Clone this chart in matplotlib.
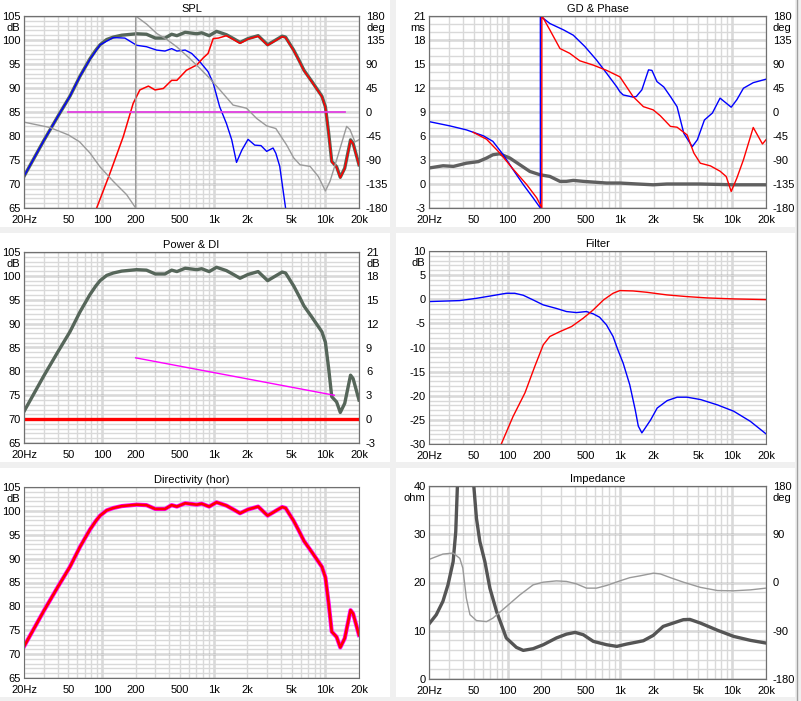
import numpy as np
import matplotlib
matplotlib.use('Agg')
import matplotlib.pyplot as plt
from matplotlib.patches import Rectangle
from matplotlib.lines import Line2D
from matplotlib.ticker import FixedLocator, NullFormatter

plt.rcParams['font.family'] = ['Liberation Sans', 'DejaVu Sans']
plt.rcParams['font.size'] = 8

# ---- data ----
# total response (SPL, power and directivity panels share it)
freq_total = [20, 30, 40, 51.6, 63.6, 78, 88, 96, 110, 126, 150, 204, 250, 300, 366,
              420, 468, 555, 705, 780, 910, 1060, 1300, 1500, 1720, 2030, 2500, 3040,
              4100, 4400, 5200, 5800, 6430, 7600, 9300, 10000, 10700, 11400, 12600,
              13600, 14900, 16800, 17700, 20000]
spl_total = [71.6, 79.0, 84.0, 88.3, 92.5, 96.1, 97.9, 99.0, 100.1, 100.6, 101.0, 101.3,
             101.2, 100.4, 100.4, 101.2, 100.9, 101.6, 101.3, 101.5, 100.9, 101.8, 101.1,
             100.3, 99.5, 100.3, 100.9, 99.0, 100.8, 100.6, 97.9, 95.8, 93.7, 91.3, 88.3,
             86.1, 80.6, 74.7, 73.6, 71.4, 73.3, 79.2, 78.5, 74.0]

# woofer SPL (blue)
freq_woof = [20, 30, 40, 51.6, 63.6, 78, 96, 126, 160, 204, 250, 308, 366, 420, 468, 555,
             635, 750, 890, 990, 1130, 1300, 1450, 1600, 1790, 2030, 2330, 2650, 2980,
             3400, 3600, 3900, 4400, 4700]
spl_woof = [71.6, 79.0, 84.0, 88.3, 92.5, 96.0, 99.0, 100.5, 100.4, 98.9, 98.6, 97.9, 97.7,
            98.2, 97.7, 97.9, 97.2, 95.5, 93.4, 91.0, 86.1, 82.6, 79.2, 74.5, 77.1, 79.3,
            78.1, 78.0, 76.8, 77.5, 76.4, 73.7, 65.0, 60.0]

# tweeter SPL (red)
freq_tw = [89.5, 118, 155, 190, 218, 260, 298, 354, 420, 468, 570, 705, 808, 890, 990,
           1100, 1300, 1500, 1720, 2030, 2500, 3040, 4100, 4400, 5200, 5800, 6430, 7600,
           9300, 10000, 10700, 11400, 12600, 13600, 14900, 16800, 17700, 20000]
spl_tw = [65, 72.3, 79.9, 86.8, 89.6, 90.4, 89.6, 89.9, 91.6, 91.6, 93.7, 94.8, 96.3, 97.2,
          100.3, 100.4, 100.9, 100.1, 99.3, 100.2, 100.8, 98.9, 100.7, 100.5, 97.8, 95.7,
          93.6, 91.2, 88.2, 86.0, 80.5, 74.6, 73.5, 71.3, 73.2, 79.1, 78.4, 73.9]

# total phase (gray, right axis, deg)
freq_ph_total = [20, 34, 50, 63, 78, 96, 126, 166, 200, 200, 250, 310, 380, 468, 570, 750,
                 920, 1130, 1490, 1720, 1970, 2420, 2980, 3600, 4500, 5200, 5930, 7300,
                 8650, 10000, 11000, 12600, 15500, 16600, 18400, 20000]
ph_total = [-19, -29, -43, -56, -77, -103, -130, -155, -180, 180, 165, 147, 136, 122, 106,
            82, 63, 42, 13, 10, 7, -12, -26, -31, -62, -86, -99, -102, -121, -148, -130,
            -90, -27, -33, -56, -52]

# target line (magenta)
freq_target = [50, 15100]
spl_target = [85, 85]

# group delay (ms)
freq_gd = [20, 26.7, 33, 43, 55, 65, 74, 85, 105, 129, 158, 194, 238, 293, 334, 385, 473,
           579, 763, 1000, 1310, 1980, 2620, 5200, 10300, 20000]
gd_ms = [2.0, 2.28, 2.2, 2.6, 2.8, 3.24, 3.65, 3.78, 3.24, 2.4, 1.57, 1.16, 0.95, 0.33,
         0.33, 0.45, 0.33, 0.24, 0.12, 0.12, 0.03, -0.1, 0.0, 0.0, -0.1, -0.1]

# woofer phase (blue, deg)
freq_ph_woof = [20, 30.6, 43, 61, 74, 91.5, 112, 138, 169, 196, 196, 238, 315, 385, 487,
                617, 760, 940, 1000, 1070, 1310, 1400, 1570, 1800, 1930, 2140, 2460, 2820,
                3230, 3710, 4410, 4900, 5660, 6660, 7800, 8850, 9800, 11000, 12600, 15400,
                20000]
ph_woof = [-18, -26, -33.5, -44.7, -55, -80, -108, -136, -161, -180, 180, 166, 154, 144,
           123, 98, 73, 47, 38, 32, 28, 29, 41.5, 79, 78, 57, 47, 29, 10, -40, -65, -52,
           -15, -2, 26, 16.6, 9, 23, 44.6, 55, 61.5]

# tweeter phase (red, deg)
freq_ph_tw = [49.4, 65, 85.5, 112, 148, 182, 202, 202, 208, 238, 293, 358, 440, 579, 763,
              1000, 1150, 1310, 1620, 1980, 2290, 2820, 3230, 3970, 4560, 5200, 6400, 7800,
              8850, 9800, 11000, 12600, 15400, 17400, 18600, 20000]
ph_tw = [-38, -51, -77, -107, -136, -161, -180, 180, 176, 154, 119, 110, 96, 88, 78, 66, 47,
         29, 10, 4, -7, -27, -28.5, -43, -77, -96, -101, -111, -121, -149, -124, -89.5, -29,
         -49, -60, -52]

# power & DI
freq_di_target = [200, 12000]
di_target = [7.7, 3.0]
freq_di = [20, 20000]
di_values = [0, 0]

# filters
freq_flt_woof = [20, 37.5, 53, 74, 97.5, 116, 138, 169, 208, 272, 335, 410, 505, 580, 660,
                 760, 870, 960, 1070, 1225, 1370, 1460, 1570, 1680, 1880, 2150, 2640, 3240,
                 3980, 5250, 7400, 10300, 14500, 20000]
flt_woof = [-0.48, -0.28, 0.2, 0.76, 1.24, 1.24, 0.83, -0.14, -1.17, -1.9, -2.55, -2.76,
            -2.55, -3.03, -3.72, -5.31, -7.72, -10.48, -13.24, -17.72, -22.9, -26.3, -27.7,
            -26.7, -25.0, -22.55, -21.0, -20.3, -20.3, -20.8, -21.9, -23.2, -25.3, -27.9]
freq_flt_tw = [88, 112, 143, 175, 208, 238, 293, 372, 472, 580, 715, 870, 1000, 1310, 1730,
               2620, 3950, 5950, 10300, 20000]
flt_tw = [-30, -24.3, -19.4, -13.9, -9.45, -7.72, -6.7, -5.65, -3.93, -2.2, -0.14, 1.24,
          1.8, 1.72, 1.45, 0.9, 0.55, 0.28, 0.07, -0.07]

# impedance
freq_imp = [20, 23.2, 26.6, 29.5, 32.8, 34.6, 35.8, 38, 42, 47, 50.1, 52.9, 56.7, 62.9,
            69.7, 79.9, 97.5, 120, 138, 169, 208, 272, 335, 400, 473, 580, 763, 940, 1150,
            1420, 1620, 1980, 2430, 2990, 3680, 4200, 5200, 7400, 10300, 14600, 20000]
imp_ohm = [11.4, 13.3, 16.1, 19.5, 24.3, 30.5, 40, 60, 80, 60, 40, 33.3, 28.5, 24.3, 18.8,
           14.0, 8.5, 6.55, 5.93, 6.28, 7.1, 8.5, 9.3, 9.66, 9.17, 7.8, 7.1, 6.76, 7.24,
           7.66, 7.93, 9.03, 10.9, 11.6, 12.3, 12.35, 11.6, 10.1, 8.83, 8.0, 7.45]
freq_imp_ph = [20, 26.6, 32.8, 37.6, 40, 43, 46.3, 52.9, 65, 74, 97.5, 129, 169, 208, 272,
               335, 410, 505, 620, 760, 1000, 1225, 1510, 1990, 2290, 2820, 3680, 5200,
               7400, 10300, 14600, 20000]
imp_ph = [43, 53, 55, 45, 27, -29, -60, -71, -73, -66.6, -45, -23, -4.4, 0.6, 3, 2, -2.5,
          -10.5, -10.5, -5.6, 3, 9, 12.4, 17.4, 16, 9, 0.6, -9, -15, -15.5, -13.7, -10.5]

FREQ_TICKS = [20, 50, 100, 200, 500, 1000, 2000, 5000, 10000, 20000]
FREQ_LABELS = ['20Hz', '50', '100', '200', '500', '1k', '2k', '5k', '10k', '20k']

MAJOR = '#707070'
MINOR = '#d9d9d9'
TOTAL = '#56665a'
W, H = 801, 701


def px_rect(left, top, right, bottom):
    return [left / W, 1 - bottom / H, (right - left) / W, (bottom - top) / H]


def setup_panel(fig, rect, title, ylim, ystep, yminor, unit):
    ax = fig.add_axes(px_rect(*rect))
    ax.set_xscale('log')
    ax.set_xlim(20, 20000)
    ax.set_ylim(*ylim)
    ax.set_xticks(FREQ_TICKS, FREQ_LABELS)
    minors = [m * 10 ** e for e in range(1, 5) for m in range(1, 10)
              if 20 <= m * 10 ** e <= 20000]
    ax.xaxis.set_minor_locator(FixedLocator(minors))
    ax.xaxis.set_minor_formatter(NullFormatter())
    ax.xaxis.remove_overlapping_locs = False
    ax.yaxis.remove_overlapping_locs = False
    yt = np.arange(ylim[0], ylim[1] + ystep / 2, ystep)
    ax.set_yticks(yt, [str(int(v)) for v in yt])
    ax.yaxis.set_minor_locator(FixedLocator(np.arange(ylim[0], ylim[1], yminor)))
    ax.grid(True, which='minor', color=MINOR, lw=1)
    ax.yaxis.grid(True, which='major', color=MAJOR, lw=1)
    ax.xaxis.grid(False, which='major')
    for d in (100, 1000, 10000):
        ax.axvline(d, color=MAJOR, lw=1, zorder=1)
    ax.tick_params(which='both', length=0)
    ax.tick_params(axis='x', pad=5)
    ax.tick_params(axis='y', pad=2.5)
    for s in ax.spines.values():
        s.set_color(MAJOR)
    ax.set_title(title, fontsize=8, pad=3)
    ax.annotate(unit, xy=(0, 1), xycoords='axes fraction', xytext=(-4, -12),
                textcoords='offset pixels', ha='right', va='center')
    return ax


def add_right(ax, ylim, ystep, unit):
    tw = ax.twinx()
    tw.set_ylim(*ylim)
    yt = np.arange(ylim[0], ylim[1] + ystep / 2, ystep)
    tw.set_yticks(yt, [str(int(v)) for v in yt])
    tw.tick_params(which='both', length=0, pad=5)
    for s in tw.spines.values():
        s.set_color(MAJOR)
    ax.annotate(unit, xy=(1, 1), xycoords='axes fraction', xytext=(7, -12),
                textcoords='offset pixels', ha='left', va='center')
    return tw


fig = plt.figure(figsize=(W / 100, H / 100), dpi=100)
fig.patch.set_facecolor('#f0f0f0')

cols = [(0, 390), (396, 795)]
rows = [(0, 227), (233, 462), (468, 697)]
for (cl, cr) in cols:
    for (rt, rb) in rows:
        fig.patches.append(Rectangle((cl / W, 1 - rb / H), (cr - cl) / W, (rb - rt) / H,
                                     transform=fig.transFigure, fc='white', ec='none',
                                     zorder=-1))
fig.lines.append(Line2D([797 / W, 797 / W], [0, 1], transform=fig.transFigure,
                        color='#a0a0a0', lw=1))

# SPL
ax = setup_panel(fig, (24, 16, 359, 208), 'SPL', (65, 105), 5, 1, 'dB')
ax.plot(freq_total, spl_total, color=TOTAL, lw=2.4)
ax.plot(freq_woof, spl_woof, color='#0000ff', lw=1)
ax.plot(freq_tw, spl_tw, color='#ff0000', lw=1.1)
ax.plot(freq_target, spl_target, color='#e040e0', lw=1.3)
tw = add_right(ax, (-180, 180), 45, 'deg')
tw.plot(freq_ph_total, ph_total, color='#9a9a9a', lw=1)

# GD & Phase
ax = setup_panel(fig, (429, 16, 766, 208), 'GD & Phase', (-3, 21), 3, 1, 'ms')
ax.plot(freq_gd, gd_ms, color='#606060', lw=2.4)
tw = add_right(ax, (-180, 180), 45, 'deg')
tw.plot(freq_ph_woof, ph_woof, color='#0000ff', lw=1)
tw.plot(freq_ph_tw, ph_tw, color='#ff0000', lw=1)

# Power & DI
ax = setup_panel(fig, (24, 252, 359, 443), 'Power & DI', (65, 105), 5, 1, 'dB')
ax.plot(freq_total, spl_total, color=TOTAL, lw=2.4)
tw = add_right(ax, (-3, 21), 3, 'dB')
tw.plot(freq_di, di_values, color='#ff0000', lw=2.4)
tw.plot(freq_di_target, di_target, color='#ff00ff', lw=1)

# Filter
ax = setup_panel(fig, (429, 251, 766, 444), 'Filter', (-30, 10), 5, 1, 'dB')
ax.plot(freq_flt_woof, flt_woof, color='#0000ff', lw=1)
ax.plot(freq_flt_tw, flt_tw, color='#ff0000', lw=1)

# Directivity
ax = setup_panel(fig, (24, 487, 359, 678), 'Directivity (hor)', (65, 105), 5, 1, 'dB')
ax.plot(freq_total, spl_total, color='#ff00ff', lw=3.0)
ax.plot(freq_total, spl_total, color='#ff0000', lw=1.9)

# Impedance
ax = setup_panel(fig, (429, 486, 766, 679), 'Impedance', (0, 40), 10, 2, 'ohm')
ax.plot(freq_imp, imp_ohm, color='#555555', lw=2.4)
tw = add_right(ax, (-180, 180), 90, 'deg')
tw.plot(freq_imp_ph, imp_ph, color='#999999', lw=1)

fig.savefig('out.png', dpi=100, facecolor=fig.get_facecolor())
